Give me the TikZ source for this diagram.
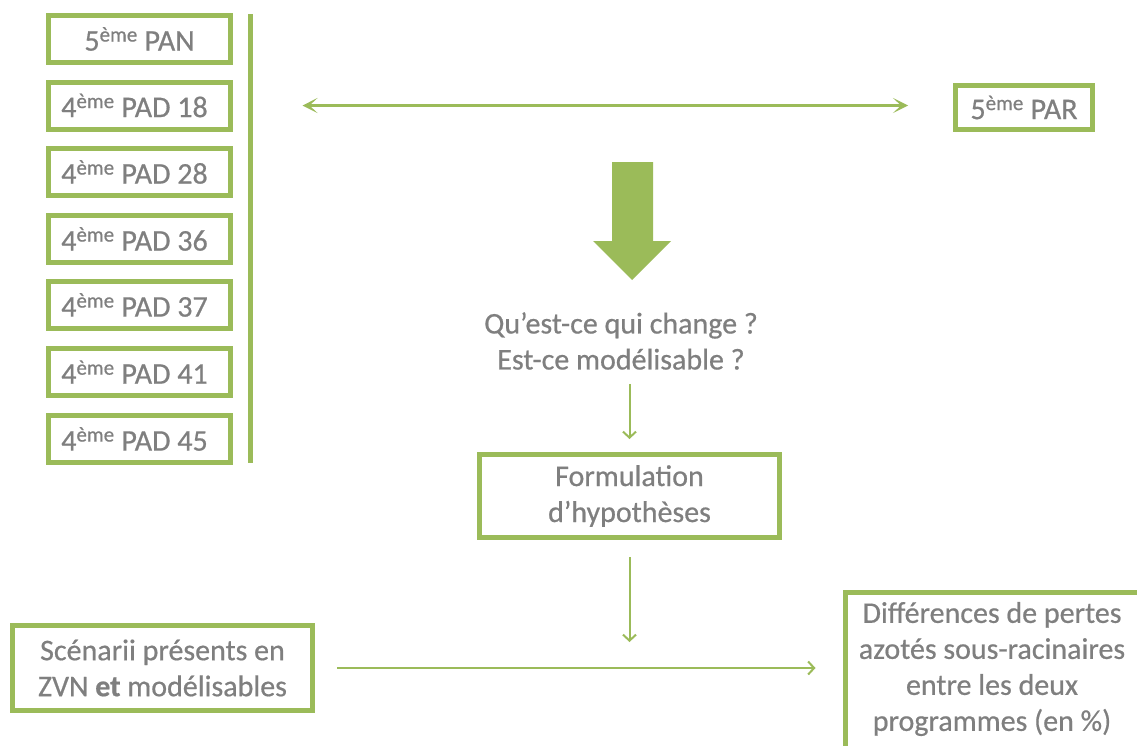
\documentclass[tikz,border=0pt]{standalone}
\usepackage{fontspec}
\setmainfont{Carlito}
\newfontfamily\heavy{Carlito}[FakeBold=0.6]
\usetikzlibrary{arrows.meta}
\definecolor{vert}{HTML}{9BBB59}
\definecolor{gris}{HTML}{7F7F7F}
\tikzset{
  base/.style={text=gris, font=\heavy\fontsize{30}{36}\selectfont, inner sep=0pt},
  txt/.style={base, align=center},
  padbox/.style={base, draw=vert, line width=5pt, minimum width=182pt, minimum height=47pt},
  bigbox/.style={txt, draw=vert, line width=5pt},
  darr/.style={draw=vert, line width=3pt, {Stealth[length=15pt,width=15pt,inset=8pt]}-{Stealth[length=15pt,width=15pt,inset=8pt]}},
  sarr/.style={draw=vert, line width=2pt, -{Straight Barb[length=6pt,width=13pt,line width=2pt]}},
}
\begin{document}
\begin{tikzpicture}[x=1pt,y=-1pt]
\useasboundingbox (0,0) rectangle (1137,745);
\clip (0,0) rectangle (1137,745);
% left column
\node[padbox] (pan) at (139.5,39) {5\textsuperscript{ème} PAN};
\node[padbox] (pad18) at (139.5,105.5) {4\textsuperscript{ème} PAD 18\kern10pt};
\node[padbox] (pad28) at (139.5,172) {4\textsuperscript{ème} PAD 28\kern10pt};
\node[padbox] (pad36) at (139.5,239) {4\textsuperscript{ème} PAD 36\kern10pt};
\node[padbox] (pad37) at (139.5,305) {4\textsuperscript{ème} PAD 37\kern10pt};
\node[padbox] (pad41) at (139.5,372) {4\textsuperscript{ème} PAD 41\kern10pt};
\node[padbox] (pad45) at (139.5,439) {4\textsuperscript{ème} PAD 45\kern10pt};
\coordinate (vtop) at (250.5,14);
\coordinate (vbot) at (250.5,463);
\draw[vert, line width=5pt] (vtop) -- (vbot);
% PAR
\node[padbox, minimum width=137pt, minimum height=44pt] (par) at (1024,107.5) {5\textsuperscript{ème} PAR};
\draw[darr, shorten <=52pt, shorten >=45pt] (vtop |- pad18.east) -- (pad18.east -| par.west);
% big arrow
\fill[vert] (612,162) -- (653,162) -- (653,241) -- (671,241) -- (632,280) -- (593,241) -- (612,241) -- cycle;
% question
\node[txt] (q) at (621,341) {Qu’est-ce qui change ?\\Est-ce modélisable ?};
% formulation
\node[bigbox, minimum width=300pt, minimum height=83pt] (form) at (629.5,496) {Formulation\\d’hypothèses};
\draw[sarr, shorten <=14pt, shorten >=13pt] (q.south -| form.north) -- (form.north);
% scenarii
\node[bigbox, minimum width=300pt, minimum height=85pt] (scen) at (162.5,668) {Scénarii présents en\\ZVN \textbf{et} modélisables};
% differences
\node[bigbox, minimum width=310pt, minimum height=180pt, anchor=north west] (diff) at (842.5,589.5) {};
\node[txt] (difft) at (992,669) {Différences de pertes\\azotés sous-racinaires\\entre les deux\\programmes (en \%)};
\draw[sarr, shorten <=22pt, shorten >=27pt] (scen.east) -- (scen.east -| diff.west);
\coordinate (m) at (form.south |- scen.east);
\draw[sarr, shorten <=17pt, shorten >=26pt] (form.south) -- (m);
\end{tikzpicture}
\end{document}
